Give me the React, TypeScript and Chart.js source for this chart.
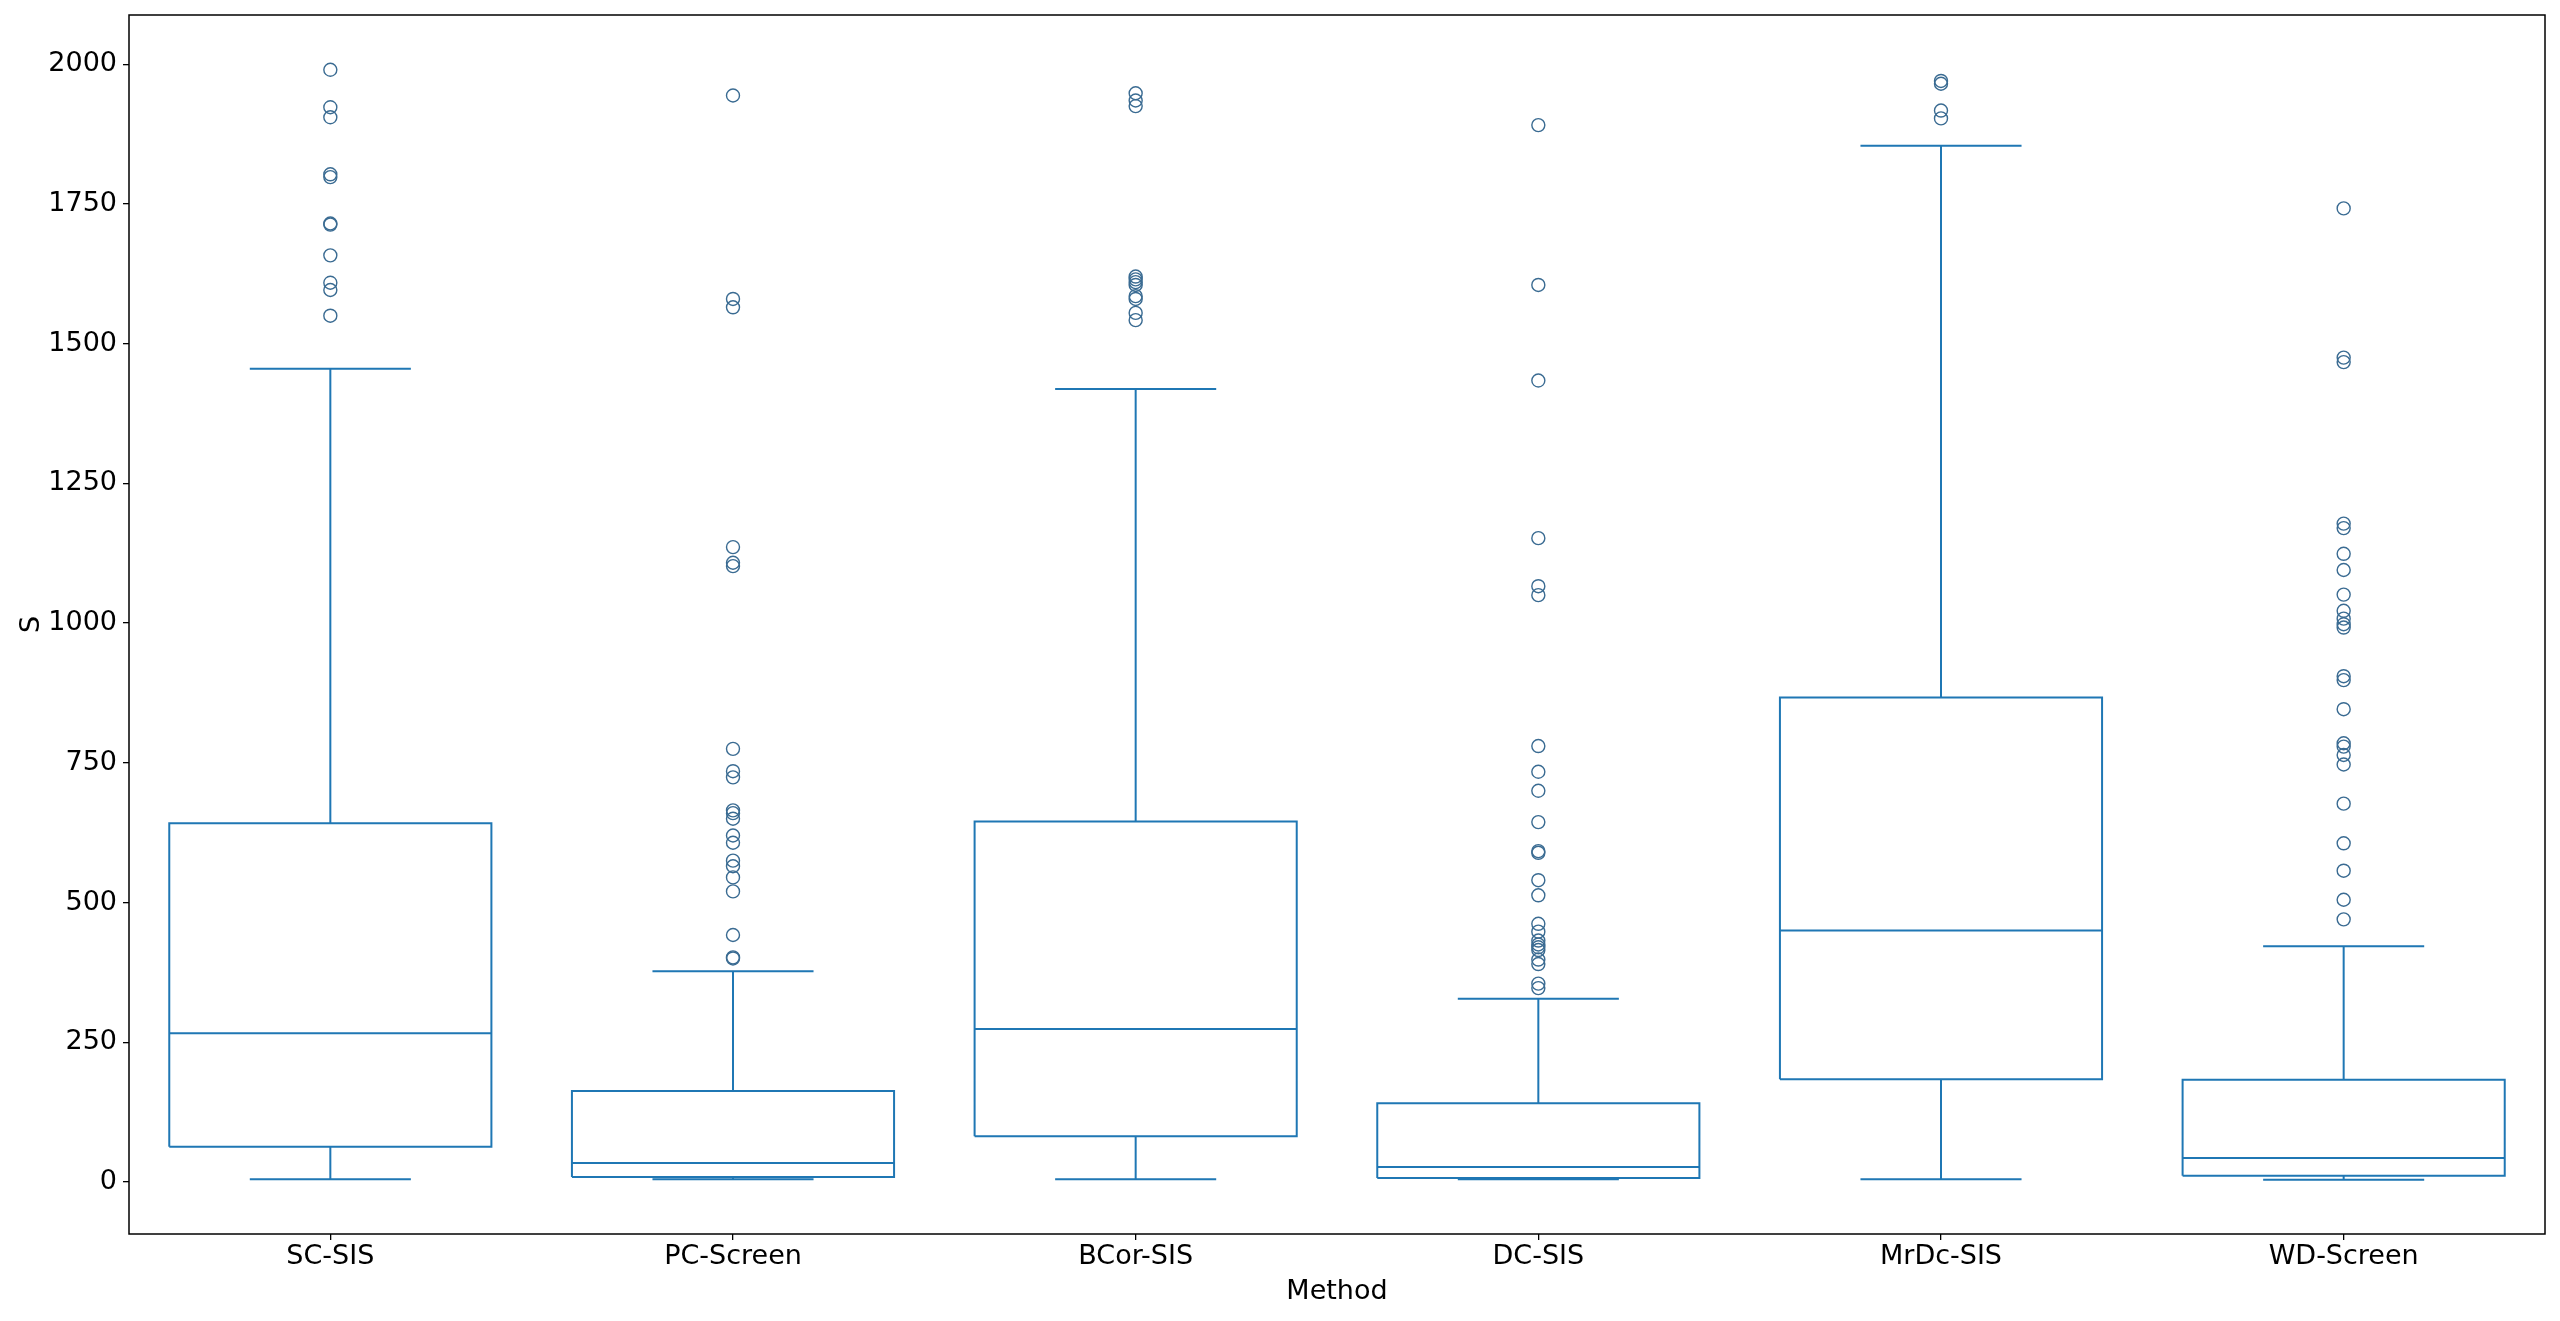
import React, { useEffect, useRef } from "react";
import { Chart, registerables } from "chart.js";

Chart.register(...registerables);

// ---- Data ----
const methods = ["SC-SIS", "PC-Screen", "BCor-SIS", "DC-SIS", "MrDc-SIS", "WD-Screen"];
const whiskerLow = [5, 5, 5, 5, 5, 4];
const q1 = [63, 9, 82, 7, 184, 11];
const median = [266, 34, 274, 27, 450, 43];
const q3 = [642, 163, 645, 141, 867, 183];
const whiskerHigh = [1455, 377, 1419, 328, 1854, 422];

const outliersSC = [1990, 1923, 1905, 1803, 1798, 1715, 1713, 1658, 1609, 1596, 1550];
const outliersPC = [1944, 1580, 1565, 1136, 1108, 1102, 775, 735, 724, 665, 660, 650, 620, 607, 575, 565, 545, 520, 442, 402, 400];
const outliersBCor = [1948, 1935, 1925, 1620, 1615, 1610, 1605, 1585, 1580, 1555, 1542];
const outliersDC = [1891, 1605, 1434, 1152, 1066, 1050, 780, 734, 700, 644, 592, 589, 540, 513, 462, 448, 432, 425, 420, 415, 398, 390, 355, 347];
const outliersMrDc = [1970, 1965, 1917, 1903];
const outliersWD = [1742, 1475, 1467, 1178, 1170, 1124, 1095, 1051, 1022, 1008, 998, 992, 905, 898, 846, 785, 779, 764, 747, 677, 606, 557, 505, 470];
const outliers = [outliersSC, outliersPC, outliersBCor, outliersDC, outliersMrDc, outliersWD];

const yTicks = [0, 250, 500, 750, 1000, 1250, 1500, 1750, 2000];
const yMin = -93;
const yMax = 2088;

const BLUE = "#1f77b4";
const FLIER = "#3a6b92";
const BOX_HALF = 0.4;
const CAP_HALF = 0.2;

type P = { x: number; y: number | null };

function buildBoxes(): P[] {
  const pts: P[] = [];
  methods.forEach((_, i) => {
    const c = i + 1;
    pts.push({ x: c - BOX_HALF, y: q1[i] });
    pts.push({ x: c + BOX_HALF, y: q1[i] });
    pts.push({ x: c + BOX_HALF, y: q3[i] });
    pts.push({ x: c - BOX_HALF, y: q3[i] });
    pts.push({ x: c - BOX_HALF, y: q1[i] });
    pts.push({ x: c, y: null });
  });
  return pts;
}

function buildHoriz(vals: number[], half: number): P[] {
  const pts: P[] = [];
  vals.forEach((v, i) => {
    const c = i + 1;
    pts.push({ x: c - half, y: v });
    pts.push({ x: c + half, y: v });
    pts.push({ x: c, y: null });
  });
  return pts;
}

function buildWhiskers(): P[] {
  const pts: P[] = [];
  methods.forEach((_, i) => {
    const c = i + 1;
    pts.push({ x: c, y: q3[i] });
    pts.push({ x: c, y: whiskerHigh[i] });
    pts.push({ x: c, y: null });
    pts.push({ x: c, y: q1[i] });
    pts.push({ x: c, y: whiskerLow[i] });
    pts.push({ x: c, y: null });
  });
  return pts;
}

function buildFliers(): P[] {
  const pts: P[] = [];
  outliers.forEach((arr, i) => arr.forEach((v) => pts.push({ x: i + 1, y: v })));
  return pts;
}

const lineBase = {
  type: "line" as const,
  borderColor: BLUE,
  borderWidth: 2,
  pointRadius: 0,
  pointHoverRadius: 0,
  fill: false,
  tension: 0,
  spanGaps: false,
  borderJoinStyle: "miter" as const,
  borderCapStyle: "butt" as const,
};

const framePlugin = {
  id: "frame",
  afterDatasetsDraw(chart: any) {
    const { ctx, chartArea } = chart;
    ctx.save();
    ctx.strokeStyle = "#000";
    ctx.lineWidth = 1.5;
    ctx.strokeRect(chartArea.left, chartArea.top, chartArea.right - chartArea.left, chartArea.bottom - chartArea.top);
    ctx.restore();
  },
};

export default function App() {
  const ref = useRef<HTMLCanvasElement | null>(null);

  useEffect(() => {
    if (!ref.current) return;
    const font = { family: "'DejaVu Sans', sans-serif", size: 27 };
    const chart = new Chart(ref.current, {
      type: "line",
      data: {
        datasets: [
          { ...lineBase, data: buildBoxes() },
          { ...lineBase, data: buildWhiskers() },
          { ...lineBase, data: buildHoriz(whiskerHigh, CAP_HALF) },
          { ...lineBase, data: buildHoriz(whiskerLow, CAP_HALF) },
          { ...lineBase, data: buildHoriz(median, BOX_HALF) },
          {
            type: "scatter" as const,
            data: buildFliers(),
            showLine: false,
            pointStyle: "circle",
            pointRadius: 6.5,
            pointHoverRadius: 6.5,
            pointBorderWidth: 1.4,
            pointBorderColor: FLIER,
            pointBackgroundColor: "rgba(0,0,0,0)",
          } as any,
        ],
      },
      options: {
        responsive: false,
        animation: false,
        devicePixelRatio: 1,
        events: [],
        layout: { padding: { top: 15, right: 15, left: 0, bottom: 0 } },
        plugins: { legend: { display: false }, tooltip: { enabled: false } },
        scales: {
          x: {
            type: "linear",
            min: 0.5,
            max: 6.5,
            afterBuildTicks: (scale: any) => {
              scale.ticks = methods.map((_, i) => ({ value: i + 1 }));
            },
            afterFit: (scale: any) => {
              scale.height = 87;
              scale.paddingLeft = 0;
              scale.paddingRight = 0;
            },
            ticks: {
              autoSkip: false,
              maxRotation: 0,
              minRotation: 0,
              padding: 1,
              color: "#000",
              font,
              callback: (v: any) => methods[Math.round(Number(v)) - 1] ?? "",
            },
            grid: { display: true, drawOnChartArea: false, drawTicks: true, tickLength: 6, color: "#000", lineWidth: 1.3 },
            border: { display: false },
            title: { display: true, text: "Method", color: "#000", font, padding: { top: 0, bottom: 13 } },
          },
          y: {
            type: "linear",
            min: yMin,
            max: yMax,
            afterBuildTicks: (scale: any) => {
              scale.ticks = yTicks.map((v) => ({ value: v }));
            },
            afterFit: (scale: any) => {
              scale.width = 129;
              scale.paddingTop = 0;
              scale.paddingBottom = 0;
            },
            ticks: {
              padding: 6,
              color: "#000",
              font,
              autoSkip: false,
              callback: (v: any) => String(v),
            },
            grid: { display: true, drawOnChartArea: false, drawTicks: true, tickLength: 6, color: "#000", lineWidth: 1.3 },
            border: { display: false },
            title: { display: true, text: "S", color: "#000", font, padding: { top: 16, bottom: 0 } },
          },
        },
      } as any,
      plugins: [framePlugin],
    });
    return () => chart.destroy();
  }, []);

  return (
    <div style={{ position: "fixed", left: 0, top: 0, width: 2560, height: 1321, background: "#fff" }}>
      <canvas ref={ref} width={2560} height={1321} style={{ display: "block" }} />
    </div>
  );
}
